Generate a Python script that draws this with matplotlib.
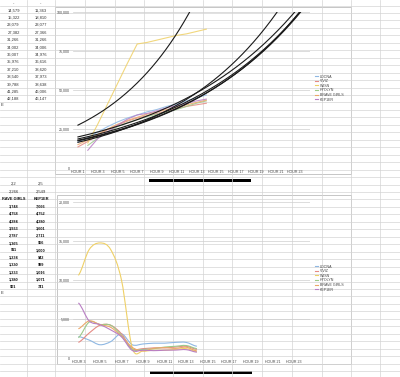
import numpy as np
import matplotlib
matplotlib.use('Agg')
import matplotlib.pyplot as plt
from matplotlib.path import Path
from matplotlib.patches import PathPatch, Rectangle
from matplotlib.lines import Line2D

plt.rcParams['font.family'] = ['Liberation Sans', 'DejaVu Sans']

# ---- data ----
series_names = ['LOONA', 'VIVIZ', 'WJSN', 'HYOLYN', 'BRAVE GIRLS', 'KEP1ER']
series_colors = ['#8fb8e3', '#e58a84', '#efd066', '#9cc98a', '#eba86a', '#b97ec4']

# top chart: cumulative, HOUR 1 .. HOUR 24 (data up to HOUR 14)
top_cats = ['HOUR %d' % h for h in range(1, 25)]
nan = np.nan
top_loona = [16500, 19500, 23000, 26500, 29500, 32000, 34000, 36000, 37500, 39500, 41000, 43000, 45000, 46800]
top_viviz = [13500, 17000, 21000, 24500, 27500, 30000, 32000, 33500, 35000, 36500, 38000, 39500, 40500, 41500]
top_wjsn = [nan, 16000, 28000, 41000, 54000, 67000, 79500, 80500, 82000, 83500, 85000, 86000, 87500, 89000]
top_hyolyn = [nan, 14500, 19000, 23000, 26500, 29000, 31000, 33000, 34500, 36000, 37500, 39500, 41500, 43000]
top_brave = [15000, 18000, 21500, 25000, 28000, 30500, 32500, 34500, 36000, 37500, 39000, 40500, 42000, 43500]
top_kep1er = [nan, 11363, 18810, 23077, 27366, 31266, 34006, 34976, 36616, 38620, 39973, 41638, 43006, 44147]
top_series = [top_loona, top_viviz, top_wjsn, top_hyolyn, top_brave, top_kep1er]

# bottom chart: hourly, HOUR 3 .. HOUR 24 (data up to HOUR 14)
bot_cats = ['HOUR %d' % h for h in range(3, 25)]
bot_loona = [2750, 2300, 1700, 2100, 3100, 1700, 1800, 1900, 1900, 2000, 2000, 1500]
bot_viviz = [2000, 3200, 4200, 4200, 3100, 1200, 1200, 1300, 1300, 1400, 1500, 1100]
bot_wjsn = [10600, 13900, 14750, 13900, 10000, 1300, 900, 1000, 1000, 1100, 1200, 800]
bot_hyolyn = [2600, 4600, 4300, 4200, 2900, 1100, 1100, 1200, 1400, 1500, 1600, 1200]
bot_brave = [3748, 4758, 4284, 3933, 2787, 1365, 911, 1234, 1330, 1233, 1380, 901]
bot_kep1er = [7066, 4752, 4280, 3601, 2711, 966, 1000, 942, 999, 1016, 1071, 741]
bot_series = [bot_loona, bot_viviz, bot_wjsn, bot_hyolyn, bot_brave, bot_kep1er]

# spreadsheet cells visible around the charts
table_top_a = ['14,579', '15,322', '23,079', '27,382', '31,266', '34,002', '36,007',
               '35,976', '37,210', '38,540', '39,788', '41,285', '42,188']
table_top_b = ['11,363', '18,810', '23,077', '27,366', '31,266', '34,006', '34,976',
               '36,616', '38,620', '37,973', '38,638', '46,006', '46,147']
table_bot_head = ['RAVE GIRLS', 'KEP1ER']
table_bot_a = ['3,748', '4,758', '4,284', '3,933', '2,787', '1,365', '911',
               '1,234', '1,330', '1,233', '1,380', '901']
table_bot_b = ['7,066', '4,752', '4,280', '3,601', '2,711', '966', '1,000',
               '942', '999', '1,016', '1,071', '741']

W, H = 400, 377


def box(x0, y0, x1, y1):
    return [x0 / W, 1 - y1 / H, (x1 - x0) / W, (y1 - y0) / H]


def smooth_path(xs, ys):
    verts = [(xs[0], ys[0])]
    codes = [Path.MOVETO]
    n = len(xs)
    for i in range(n - 1):
        y0 = ys[i - 1] if i > 0 else ys[i]
        y3 = ys[i + 2] if i + 2 < n else ys[i + 1]
        t1 = (ys[i + 1] - y0) / 2
        t2 = (y3 - ys[i]) / 2
        verts += [(xs[i] + 1 / 3, ys[i] + t1 / 3),
                  (xs[i + 1] - 1 / 3, ys[i + 1] - t2 / 3),
                  (xs[i + 1], ys[i + 1])]
        codes += [Path.CURVE4] * 3
    return Path(verts, codes)


fig = plt.figure(figsize=(4, 3.77), dpi=100)

# ---- spreadsheet background ----
bg = fig.add_axes([0, 0, 1, 1])
bg.set_xlim(0, W)
bg.set_ylim(H, 0)
bg.axis('off')
grid_c = '#d4d4d4'
for k in range(51):
    y = 5.5 + 7.46 * k
    bg.plot([0, W], [y, y], color=grid_c, lw=0.5)
for x in [27, 55, 85, 115, 144, 173, 203, 232, 262, 292, 322, 351, 380]:
    bg.plot([x, x], [0, H], color=grid_c, lw=0.5)

# chart boxes
bg.add_patch(Rectangle((55, 7), 296, 167, facecolor='white', edgecolor='#bdbdbd', lw=0.6))
bg.add_patch(Rectangle((57, 195), 294, 169, facecolor='white', edgecolor='#bdbdbd', lw=0.6))

# scroll bars
bg.add_patch(Rectangle((149, 178.5), 102, 3, facecolor='black', edgecolor='none'))
bg.add_patch(Rectangle((150, 370.5), 102, 3, facecolor='black', edgecolor='none'))

# table texts
tc = '#333333'
for x in [13.5, 41]:
    bg.text(x, 3, '-', ha='center', va='center', fontsize=3, color=tc)
for k in range(len(table_top_a)):
    y = 10.2 + 7.4 * k
    bg.text(13.5, y, table_top_a[k], ha='center', va='center', fontsize=3, color=tc)
    bg.text(41, y, table_top_b[k], ha='center', va='center', fontsize=3, color=tc)
bg.text(1, 105, 'E', ha='left', va='center', fontsize=3, color=tc)

bg.text(13.5, 184, '2,2', ha='center', va='center', fontsize=3, color=tc)
bg.text(41, 184, '2,5', ha='center', va='center', fontsize=3, color=tc)
bg.text(13.5, 192, '2,266', ha='center', va='center', fontsize=3, color=tc)
bg.text(41, 192, '2,549', ha='center', va='center', fontsize=3, color=tc)
bg.text(13.5, 199, table_bot_head[0], ha='center', va='center', fontsize=2.8,
        color='#111111', fontweight='bold')
bg.text(41, 199, table_bot_head[1], ha='center', va='center', fontsize=2.8,
        color='#111111', fontweight='bold')
for k in range(len(table_bot_a)):
    y = 206.5 + 7.3 * k
    bg.text(13.5, y, table_bot_a[k], ha='center', va='center', fontsize=2.8,
            color='#111111', fontweight='bold')
    bg.text(41, y, table_bot_b[k], ha='center', va='center', fontsize=2.8,
            color='#111111', fontweight='bold')
bg.text(1, 293, 'E', ha='left', va='center', fontsize=3, color=tc)

# ---- top chart ----
ax1 = fig.add_axes(box(73, 12, 310, 168))
ax1.set_facecolor('none')
xt = np.arange(len(top_cats))
for vals, c in zip(top_series, series_colors):
    v = np.array(vals, dtype=float)
    x = np.arange(len(v))
    m = ~np.isnan(v)
    ax1.plot(x[m], v[m], color=c, lw=0.8, alpha=0.85)
# exponential trendlines
xx = np.linspace(0, len(top_cats) - 1, 200)
for vals in top_series:
    v = np.array(vals, dtype=float)
    x = np.arange(len(v))
    m = ~np.isnan(v)
    b, a = np.polyfit(x[m], np.log(v[m]), 1)
    ax1.plot(xx, np.exp(a + b * xx), color='#1a1a1a', lw=0.8)
ax1.set_ylim(0, 100000)
ax1.set_xlim(-0.5, len(top_cats) - 0.5)
ax1.set_yticks([0, 25000, 50000, 75000, 100000])
ax1.set_yticklabels(['0', '25,000', '50,000', '75,000', '100,000'])
ax1.set_xticks(xt[::2])
ax1.set_xticklabels(top_cats[::2])

# ---- bottom chart ----
ax2 = fig.add_axes(box(73, 202, 310, 358))
ax2.set_facecolor('none')
for vals, c in zip(bot_series, series_colors):
    x = np.arange(len(vals))
    ax2.add_patch(PathPatch(smooth_path(x, vals), facecolor='none', edgecolor=c, lw=0.8))
ax2.set_ylim(0, 20000)
ax2.set_xlim(-0.5, len(bot_cats) - 0.5)
ax2.set_yticks([0, 5000, 10000, 15000, 20000])
ax2.set_yticklabels(['0', '5,000', '10,000', '15,000', '20,000'])
xb = np.arange(len(bot_cats))
ax2.set_xticks(xb[::2])
ax2.set_xticklabels(bot_cats[::2])

for ax in [ax1, ax2]:
    for s in ax.spines.values():
        s.set_visible(False)
    ax.yaxis.grid(True, color='#cfcfcf', lw=0.5)
    ax.set_axisbelow(True)
    ax.tick_params(length=0, labelsize=2.6, labelcolor='#444444')
    ax.tick_params(axis='y', pad=2.2)
    ax.tick_params(axis='x', pad=1.5)

handles = [Line2D([], [], color=c, lw=0.8) for c in series_colors]
for ax, ytop in [(ax1, 74.5), (ax2, 264.5)]:
    ax.legend(handles, series_names, loc='upper left', bbox_to_anchor=(315 / W, 1 - ytop / H),
              bbox_transform=fig.transFigure, frameon=False, fontsize=2.6,
              handlelength=0.9, handletextpad=0.5, labelspacing=0.17,
              borderpad=0, borderaxespad=0, labelcolor='#444444')

fig.savefig('out.png', dpi=100)
